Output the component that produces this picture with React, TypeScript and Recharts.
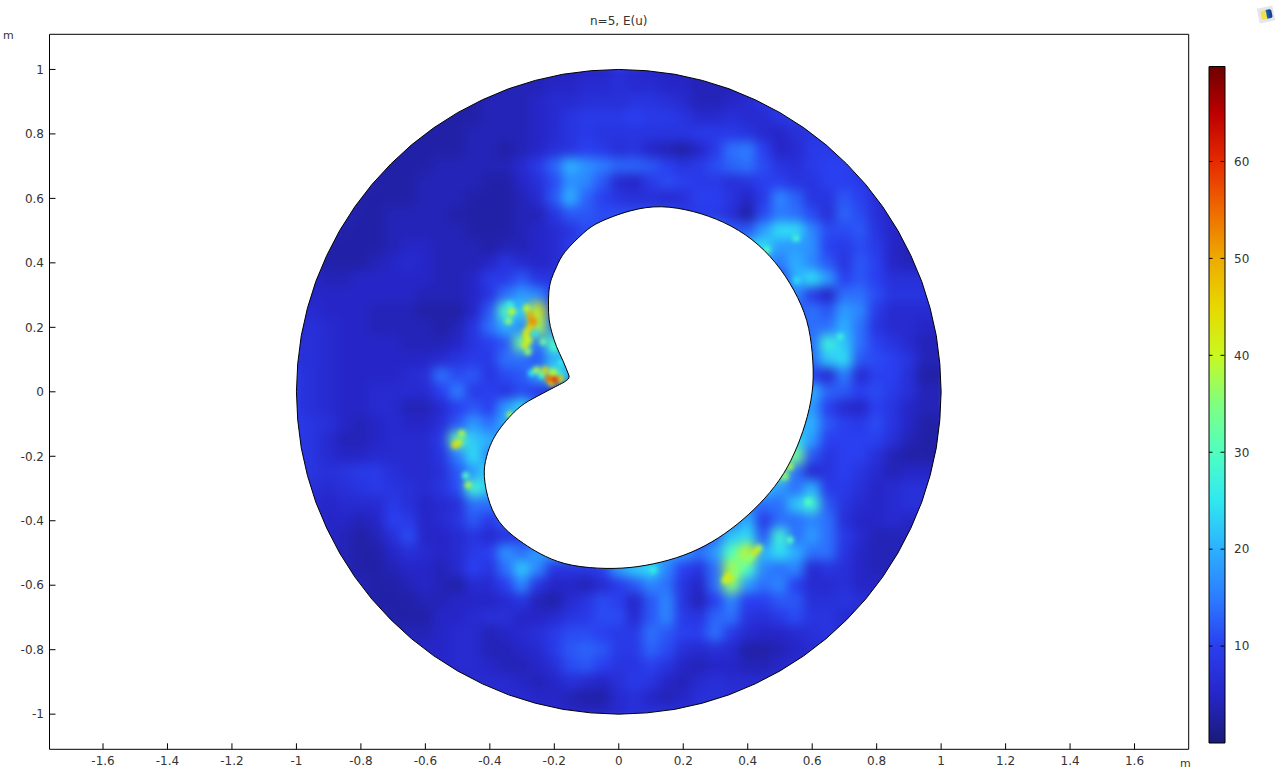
import { Bar, BarChart, ReferenceLine, Scatter, ScatterChart, XAxis, YAxis } from 'recharts';

const xTicks = [-1.6, -1.4, -1.2, -1, -0.8, -0.6, -0.4, -0.2, 0, 0.2, 0.4, 0.6, 0.8, 1, 1.2, 1.4, 1.6];
const yTicks = [-1, -0.8, -0.6, -0.4, -0.2, 0, 0.2, 0.4, 0.6, 0.8, 1];
const colorTicks = [10, 20, 30, 40, 50, 60];

const colorValues = [0, 5, 10, 15, 20, 25, 30, 35, 40, 45, 50, 55, 60, 65, 70];
const colorHexes = ['#1a1a78', '#2626c8', '#2a3ff0', '#2c7cff', '#2cb0ff', '#30e8f0', '#50ffc0', '#80ff80', '#c8f820', '#e8d800', '#eeaa00', '#ee6a00', '#e62a00', '#bb0000', '#6e0000'];

const gridX = [-1, -0.95, -0.9, -0.85, -0.8, -0.75, -0.7, -0.65, -0.6, -0.55, -0.5, -0.45, -0.4, -0.35, -0.3, -0.25, -0.2, -0.15, -0.1, -0.05, 0, 0.05, 0.1, 0.15, 0.2, 0.25, 0.3, 0.35, 0.4, 0.45, 0.5, 0.55, 0.6, 0.65, 0.7, 0.75, 0.8, 0.85, 0.9, 0.95, 1];
const gridY = [1, 0.95, 0.9, 0.85, 0.8, 0.75, 0.7, 0.65, 0.6, 0.55, 0.5, 0.45, 0.4, 0.35, 0.3, 0.25, 0.2, 0.15, 0.1, 0.05, 0, -0.05, -0.1, -0.15, -0.2, -0.25, -0.3, -0.35, -0.4, -0.45, -0.5, -0.55, -0.6, -0.65, -0.7, -0.75, -0.8, -0.85, -0.9, -0.95, -1];

// E(u), one row per gridY, one column per gridX
const fieldRows = [
  [4,4,4,4,4,4,4,4,4,4,4,4,4,4,4,4,4,4,5,5,7,6,5,5,4,4,4,4,4,4,4,4,5,5,5,5,5,5,5,5,5],
  [4,4,4,4,4,4,4,4,4,4,4,4,4,4,4,4,5,5,6,6,7,6,6,5,5,4,4,4,5,5,7,7,7,7,6,6,6,6,6,6,6],
  [4,4,4,4,4,4,4,4,4,4,3,3,4,4,4,5,6,6,7,7,7,8,8,7,6,4,4,5,6,8,10,10,8,7,7,7,7,7,7,7,7],
  [4,4,4,4,4,4,4,4,3,3,3,3,4,4,4,5,6,8,9,9,9,10,9,9,8,6,6,7,6,6,8,9,9,8,8,8,8,8,8,8,8],
  [4,4,4,4,4,4,4,3,3,3,3,4,4,4,4,5,6,8,9,8,8,8,8,8,8,9,9,9,8,6,5,7,8,9,9,9,9,9,9,9,9],
  [4,4,4,4,4,4,3,3,3,3,3,4,4,3,4,5,7,8,10,9,7,8,5,4,3,5,9,14,15,10,5,6,9,9,9,8,8,8,8,8,8],
  [4,4,4,4,4,3,3,3,3,4,4,4,4,4,6,9,13,20,17,15,13,13,12,10,8,9,11,13,14,11,8,7,9,10,10,9,8,8,8,8,8],
  [4,4,4,4,4,3,3,3,4,4,4,4,3,3,5,7,11,17,16,12,6,5,9,11,10,9,9,7,8,10,10,8,8,10,10,9,7,7,7,7,7],
  [4,4,4,4,3,3,3,3,4,4,4,3,3,3,4,6,12,20,13,10,8,7,7,6,7,10,10,8,5,9,16,13,8,8,12,10,7,5,5,5,5],
  [4,4,4,4,3,3,4,4,4,4,3,3,3,3,4,4,8,12,12,11,11,11,11,11,9,9,9,7,3,11,15,14,11,7,13,11,7,5,5,5,5],
  [4,4,4,3,3,3,4,4,4,4,4,3,3,3,4,5,6,8,11,11,11,11,11,11,11,15,16,12,12,18,24,24,16,11,11,12,8,5,5,5,5],
  [4,4,3,3,3,3,4,5,5,4,4,4,3,4,4,5,6,9,11,11,11,11,11,11,11,11,15,18,22,24,18,18,17,10,9,11,9,5,4,4,4],
  [4,4,3,3,3,4,5,6,5,4,4,4,5,8,6,5,6,8,11,11,11,11,11,11,11,11,11,14,20,18,15,20,16,12,8,12,10,5,4,4,4],
  [5,5,4,4,5,5,5,5,5,4,4,5,9,9,12,8,8,10,10,10,10,10,10,10,10,10,10,10,10,10,10,20,24,18,10,12,10,7,7,7,7],
  [5,5,5,5,5,5,5,5,4,4,4,5,8,14,18,16,10,10,10,10,10,10,10,10,10,10,10,10,10,10,10,16,9,5,14,14,11,8,8,8,8],
  [6,6,5,5,5,4,4,4,3,3,3,5,12,30,22,42,12,12,12,12,12,12,12,12,12,12,12,12,12,12,12,12,14,12,18,16,9,6,6,6,6],
  [6,7,6,5,5,4,4,4,4,3,4,8,14,20,16,38,14,12,12,12,12,12,12,12,12,12,12,12,12,12,12,12,14,14,20,14,8,6,6,5,5],
  [7,7,6,5,5,5,5,4,4,4,5,8,10,12,33,14,30,20,16,16,16,16,16,16,16,16,16,16,16,16,16,16,14,27,22,14,10,8,6,4,4],
  [7,7,6,5,5,5,5,5,5,6,8,9,9,14,14,12,20,20,14,14,14,14,14,14,14,14,14,14,14,14,14,14,14,22,24,12,11,10,8,4,4],
  [8,7,6,5,5,5,5,6,7,14,11,12,8,11,12,18,30,20,10,10,10,10,10,10,10,10,10,10,10,10,10,10,10,6,15,6,10,10,7,3,3],
  [8,7,6,5,5,6,6,6,6,10,15,9,10,8,11,9,6,6,7,7,7,7,7,7,7,7,7,7,7,7,7,14,20,13,12,10,11,9,7,4,4],
  [8,7,6,5,5,6,6,4,4,6,10,12,10,18,24,14,14,14,14,14,14,14,14,14,14,14,14,14,14,14,14,16,18,10,6,5,10,8,5,4,4],
  [9,8,7,5,4,5,6,5,5,7,12,18,14,20,14,14,14,14,14,14,14,14,14,14,14,14,14,14,14,14,14,20,20,12,10,9,11,8,5,3,3],
  [9,8,6,4,4,5,6,6,6,9,32,22,20,16,16,16,16,16,16,16,16,16,16,16,16,16,16,16,16,16,16,24,18,10,10,10,10,7,4,3,3],
  [9,8,6,5,5,6,6,6,6,8,15,24,16,16,16,16,16,16,16,16,16,16,16,16,16,16,16,16,16,16,30,34,12,8,10,10,7,4,3,3,3],
  [8,8,7,8,9,9,7,6,6,7,12,18,24,20,20,20,20,20,20,20,20,20,20,20,20,20,20,20,20,20,34,14,6,8,10,8,6,4,5,5,5],
  [8,7,6,7,8,9,8,7,6,8,11,28,22,22,22,22,22,22,22,22,22,22,22,22,22,22,22,22,22,22,18,14,20,9,9,7,5,6,7,7,7],
  [7,6,5,6,6,6,9,7,5,6,7,14,14,14,14,14,14,14,14,14,14,14,14,14,14,14,14,14,14,14,14,22,28,12,8,6,5,6,7,7,7],
  [6,6,5,5,4,5,10,9,5,6,8,12,9,12,12,12,12,12,12,12,12,12,12,12,12,12,12,14,20,9,14,14,16,14,7,5,5,6,5,5,5],
  [6,6,5,4,3,4,7,11,5,5,6,8,6,8,10,10,10,10,10,10,10,10,10,10,10,10,14,22,24,12,28,14,18,14,9,6,4,4,4,4,4],
  [6,6,5,4,3,3,5,7,6,5,6,9,10,17,14,18,18,18,18,18,18,18,18,18,18,14,18,30,40,20,24,20,14,14,8,5,4,4,4,4,4],
  [6,6,5,4,3,3,4,5,5,4,6,10,8,14,22,16,8,8,8,10,18,22,24,16,10,8,14,38,30,16,14,16,6,8,7,5,4,4,4,4,4],
  [5,5,5,4,4,3,3,4,5,4,3,6,6,10,16,8,5,5,4,6,9,12,16,14,8,5,14,36,18,14,16,10,6,6,7,5,5,5,5,5,5],
  [5,5,5,4,4,3,3,3,4,4,5,5,5,6,8,4,3,6,8,11,10,5,12,16,8,4,10,16,10,10,12,12,7,7,8,7,6,6,6,6,6],
  [5,5,5,5,4,4,3,3,3,5,5,6,7,7,5,5,6,8,9,11,11,6,12,16,9,8,13,14,8,7,9,11,8,8,6,6,6,6,6,6,6],
  [5,5,5,5,5,5,4,4,4,5,6,6,4,5,6,7,9,11,11,10,9,9,14,12,10,10,14,9,6,5,5,6,7,8,7,7,7,7,7,7,7],
  [5,5,5,5,5,5,5,5,5,5,6,6,4,4,5,6,9,12,13,12,9,9,13,11,7,6,7,6,3,3,4,5,6,7,7,7,7,7,7,7,7],
  [5,5,5,5,5,5,5,5,5,5,6,6,5,4,4,5,7,11,12,10,8,8,10,8,5,4,5,5,4,4,5,6,6,6,6,6,6,6,6,6,6],
  [5,5,5,5,5,5,5,5,5,5,5,6,6,6,5,4,5,7,6,5,7,9,8,5,4,6,7,6,6,6,6,6,6,6,6,6,6,6,6,6,6],
  [6,6,6,6,6,6,6,6,6,6,6,6,6,6,6,5,5,4,3,3,6,7,5,4,5,7,7,7,7,7,7,7,7,7,7,7,7,7,7,7,7],
  [6,6,6,6,6,6,6,6,6,6,6,6,6,6,6,6,6,5,5,5,6,7,7,7,7,7,7,7,7,7,7,7,7,7,7,7,7,7,7,7,7],
];

// narrow peaks the coarse grid cannot hold: x, y, E(u)
const peaks = [
  [-0.286, 0.259, 40], [-0.275, 0.238, 50], [-0.263, 0.217, 52], [-0.27, 0.22, 52], [-0.275, 0.2, 46], [-0.286, 0.186, 42], [-0.288, 0.17, 42], [-0.291, 0.145, 42], [-0.28, 0.16, 40], [-0.282, 0.124, 36],
  [-0.332, 0.249, 40], [-0.342, 0.22, 36], [-0.338, 0.269, 26], [-0.31, 0.272, 20], [-0.235, 0.155, 33], [-0.259, 0.182, 24],
  [-0.219, 0.042, 55], [-0.198, 0.037, 60], [-0.182, 0.04, 45], [-0.208, 0.028, 46], [-0.229, 0.068, 46], [-0.204, 0.059, 40], [-0.255, 0.068, 38], [-0.27, 0.058, 25], [-0.239, 0.052, 30],
  [-0.508, -0.165, 45], [-0.497, -0.158, 42], [-0.487, -0.129, 38], [-0.467, -0.289, 38], [-0.475, -0.26, 30], [-0.337, -0.072, 38],
  [0.345, -0.579, 42], [0.33, -0.585, 40], [0.36, -0.565, 35], [0.34, -0.57, 42], [0.38, -0.54, 34], [0.4, -0.52, 36], [0.423, -0.496, 42], [0.41, -0.51, 36], [0.435, -0.485, 38],
  [0.588, -0.341, 30], [0.531, -0.46, 30], [0.531, -0.232, 38], [0.515, -0.262, 36],
  [0.55, 0.476, 28], [0.459, 0.44, 30], [0.687, 0.171, 27], [0.552, 0.346, 24], [0.107, -0.553, 26],
  [-0.2, 0.14, 28], [-0.18, 0.09, 25],
];

const ringX = [1, 0.996, 0.985, 0.966, 0.94, 0.906, 0.866, 0.819, 0.766, 0.707, 0.643, 0.574, 0.5, 0.423, 0.342, 0.259, 0.174, 0.087, 0, -0.087, -0.174, -0.259, -0.342, -0.423, -0.5, -0.574, -0.643, -0.707, -0.766, -0.819, -0.866, -0.906, -0.94, -0.966, -0.985, -0.996, -1, -0.996, -0.985, -0.966, -0.94, -0.906, -0.866, -0.819, -0.766, -0.707, -0.643, -0.574, -0.5, -0.423, -0.342, -0.259, -0.174, -0.087, 0, 0.087, 0.174, 0.259, 0.342, 0.423, 0.5, 0.574, 0.643, 0.707, 0.766, 0.819, 0.866, 0.906, 0.94, 0.966, 0.985, 0.996, 1];
const ringY = [0, 0.087, 0.174, 0.259, 0.342, 0.423, 0.5, 0.574, 0.643, 0.707, 0.766, 0.819, 0.866, 0.906, 0.94, 0.966, 0.985, 0.996, 1, 0.996, 0.985, 0.966, 0.94, 0.906, 0.866, 0.819, 0.766, 0.707, 0.643, 0.574, 0.5, 0.423, 0.342, 0.259, 0.174, 0.087, 0, -0.087, -0.174, -0.259, -0.342, -0.423, -0.5, -0.574, -0.643, -0.707, -0.766, -0.819, -0.866, -0.906, -0.94, -0.966, -0.985, -0.996, -1, -0.996, -0.985, -0.966, -0.94, -0.906, -0.866, -0.819, -0.766, -0.707, -0.643, -0.574, -0.5, -0.423, -0.342, -0.259, -0.174, -0.087, 0];

// square round the disc, walked against the ring so the fill only covers the corners
const cornerX = [1.085, 1.085, -1.085, -1.085, 1.085, 1.085, 1];
const cornerY = [0, -1.085, -1.085, 1.085, 1.085, 0, 0];

// the kidney shaped hole, clockwise from its cusp
const holeX = [-0.154, -0.173, -0.193, -0.207, -0.216, -0.218, -0.217, -0.21, -0.193, -0.166, -0.11, -0.058, 0.035, 0.132, 0.231, 0.326, 0.413, 0.486, 0.543, 0.583, 0.6, 0.602, 0.585, 0.554, 0.511, 0.453, 0.385, 0.309, 0.224, 0.132, 0.035, -0.065, -0.167, -0.244, -0.296, -0.358, -0.4, -0.417, -0.41, -0.379, -0.317, -0.266, -0.204, -0.162, -0.154];
const holeY = [0.049, 0.096, 0.14, 0.182, 0.223, 0.267, 0.307, 0.347, 0.388, 0.435, 0.492, 0.527, 0.561, 0.574, 0.559, 0.525, 0.472, 0.4, 0.315, 0.221, 0.121, 0.021, -0.076, -0.168, -0.254, -0.33, -0.396, -0.453, -0.498, -0.528, -0.545, -0.547, -0.533, -0.502, -0.47, -0.419, -0.346, -0.263, -0.201, -0.129, -0.056, -0.021, 0.012, 0.035, 0.049];

const colorMax = 69.8;

const hexToRgb = (hex: string) => [1, 3, 5].map((i) => parseInt(hex.slice(i, i + 2), 16));

function colorFor(v: number) {
  let i = 0;
  while (i < colorValues.length - 2 && v > colorValues[i + 1]) i++;
  const t = Math.min(1, Math.max(0, (v - colorValues[i]) / (colorValues[i + 1] - colorValues[i])));
  const a = hexToRgb(colorHexes[i]);
  const b = hexToRgb(colorHexes[i + 1]);
  return `rgb(${a.map((c, k) => Math.round(c + (b[k] - c) * t)).join(',')})`;
}

const cells = fieldRows.flatMap((row, r) => row.map((v, c) => ({ x: gridX[c], y: gridY[r], v })));
const peakPoints = peaks.map(([x, y, v]) => ({ x, y, v })).sort((a, b) => a.v - b.v);
const maskPoints = [...ringX, ...cornerX].map((x, i) => ({ x, y: [...ringY, ...cornerY][i] }));
const ringPoints = ringX.map((x, i) => ({ x, y: ringY[i] }));
const holePoints = holeX.map((x, i) => ({ x, y: holeY[i] }));
const colorbarData = [{ name: 'E', value: colorMax }];

const tickStyle = { fontSize: 12, fill: '#333', fontFamily: 'DejaVu Sans' };
const labelStyle: React.CSSProperties = { position: 'absolute', fontFamily: 'DejaVu Sans', fontSize: 11, color: '#333', lineHeight: '14px', whiteSpace: 'nowrap' };

const FieldCell = (p: any) => <rect x={p.cx - 8.5} y={p.cy - 8.5} width={17} height={17} fill={colorFor(p.payload.v)} />;
const PeakDot = (p: any) => <circle cx={p.cx} cy={p.cy} r={3.5} fill={colorFor(p.payload.v)} />;
const NoDot = () => <g />;

export default function App() {
  return (
    <div style={{ position: 'absolute', left: 0, top: 0, width: 1281, height: 772, background: '#fff', overflow: 'hidden' }}>
      <style>{'.field{filter:blur(5.5px)}.peaks{filter:blur(2.2px)}'}</style>
      <ScatterChart width={1281} height={772} margin={{ top: 33.3, right: 91.3, bottom: 21.7, left: 48.5 }} style={{ position: 'absolute', left: 0, top: 0 }}>
        <XAxis type="number" dataKey="x" domain={[-1.766, 1.768]} ticks={xTicks} height={1} interval={0} allowDataOverflow tickSize={-6} tickMargin={13} tick={tickStyle} stroke="#000" tickLine={{ stroke: '#000' }} />
        <XAxis xAxisId="top" orientation="top" type="number" dataKey="x" domain={[-1.766, 1.768]} ticks={xTicks} height={1} interval={0} allowDataOverflow tickSize={-6} tick={false} stroke="#000" tickLine={{ stroke: '#000' }} />
        <YAxis type="number" dataKey="y" domain={[-1.109, 1.109]} ticks={yTicks} width={1} interval={0} allowDataOverflow tickSize={-6} tickMargin={11.5} tick={tickStyle} stroke="#000" tickLine={{ stroke: '#000' }} />
        <YAxis yAxisId="right" orientation="right" type="number" dataKey="y" domain={[-1.109, 1.109]} ticks={yTicks} width={1} interval={0} allowDataOverflow tickSize={-6} tick={false} stroke="#000" tickLine={{ stroke: '#000' }} />
        <Scatter className="field" data={cells} shape={FieldCell} isAnimationActive={false} />
        <Scatter className="peaks" data={peakPoints} shape={PeakDot} isAnimationActive={false} />
        <Scatter data={maskPoints} shape={NoDot} line={{ stroke: 'none', fill: '#fff' }} isAnimationActive={false} />
        <Scatter data={ringPoints} shape={NoDot} line={{ stroke: '#000', strokeWidth: 1, fill: 'none' }} isAnimationActive={false} />
        <Scatter data={holePoints} shape={NoDot} lineJointType="natural" line={{ stroke: '#000', strokeWidth: 1, fill: '#fff' }} isAnimationActive={false} />
      </ScatterChart>

      <BarChart width={70} height={772} data={colorbarData} barCategoryGap={0} margin={{ top: 66.5, right: 44.5, bottom: 29, left: 9 }} style={{ position: 'absolute', left: 1200, top: 0 }}>
        <defs>
          <linearGradient id="rainbow" x1="0" y1="1" x2="0" y2="0">
            {colorValues.map((v, i) => (
              <stop key={v} offset={Math.min(1, v / colorMax)} stopColor={colorHexes[i]} />
            ))}
          </linearGradient>
        </defs>
        <XAxis dataKey="name" hide />
        <YAxis orientation="right" type="number" domain={[0, colorMax]} ticks={colorTicks} width={1} interval={0} axisLine={false} tickLine={false} tickSize={0} tickMargin={9.5} tick={tickStyle} />
        <Bar dataKey="value" fill="url(#rainbow)" stroke="#000" isAnimationActive={false} />
        {colorTicks.map((v) => (
          <ReferenceLine key={v} y={v} stroke="#000" strokeDasharray="4 8 4" />
        ))}
      </BarChart>

      <div style={{ ...labelStyle, left: 590, top: 14, fontSize: 12 }}>n=5, E(u)</div>
      <div style={{ ...labelStyle, left: 3, top: 29 }}>m</div>
      <div style={{ ...labelStyle, left: 1180, top: 757 }}>m</div>

      <div style={{ position: 'absolute', left: 1258, top: 7, width: 16, height: 15, background: '#e4e6ea', transform: 'rotate(-12deg)' }}>
        <div style={{ position: 'absolute', left: 3, top: 3, width: 11, height: 9, borderRadius: 2, background: 'linear-gradient(90deg,#f4e04a 0 45%,#1c60c0 55%,#123a80 100%)' }} />
      </div>
    </div>
  );
}
